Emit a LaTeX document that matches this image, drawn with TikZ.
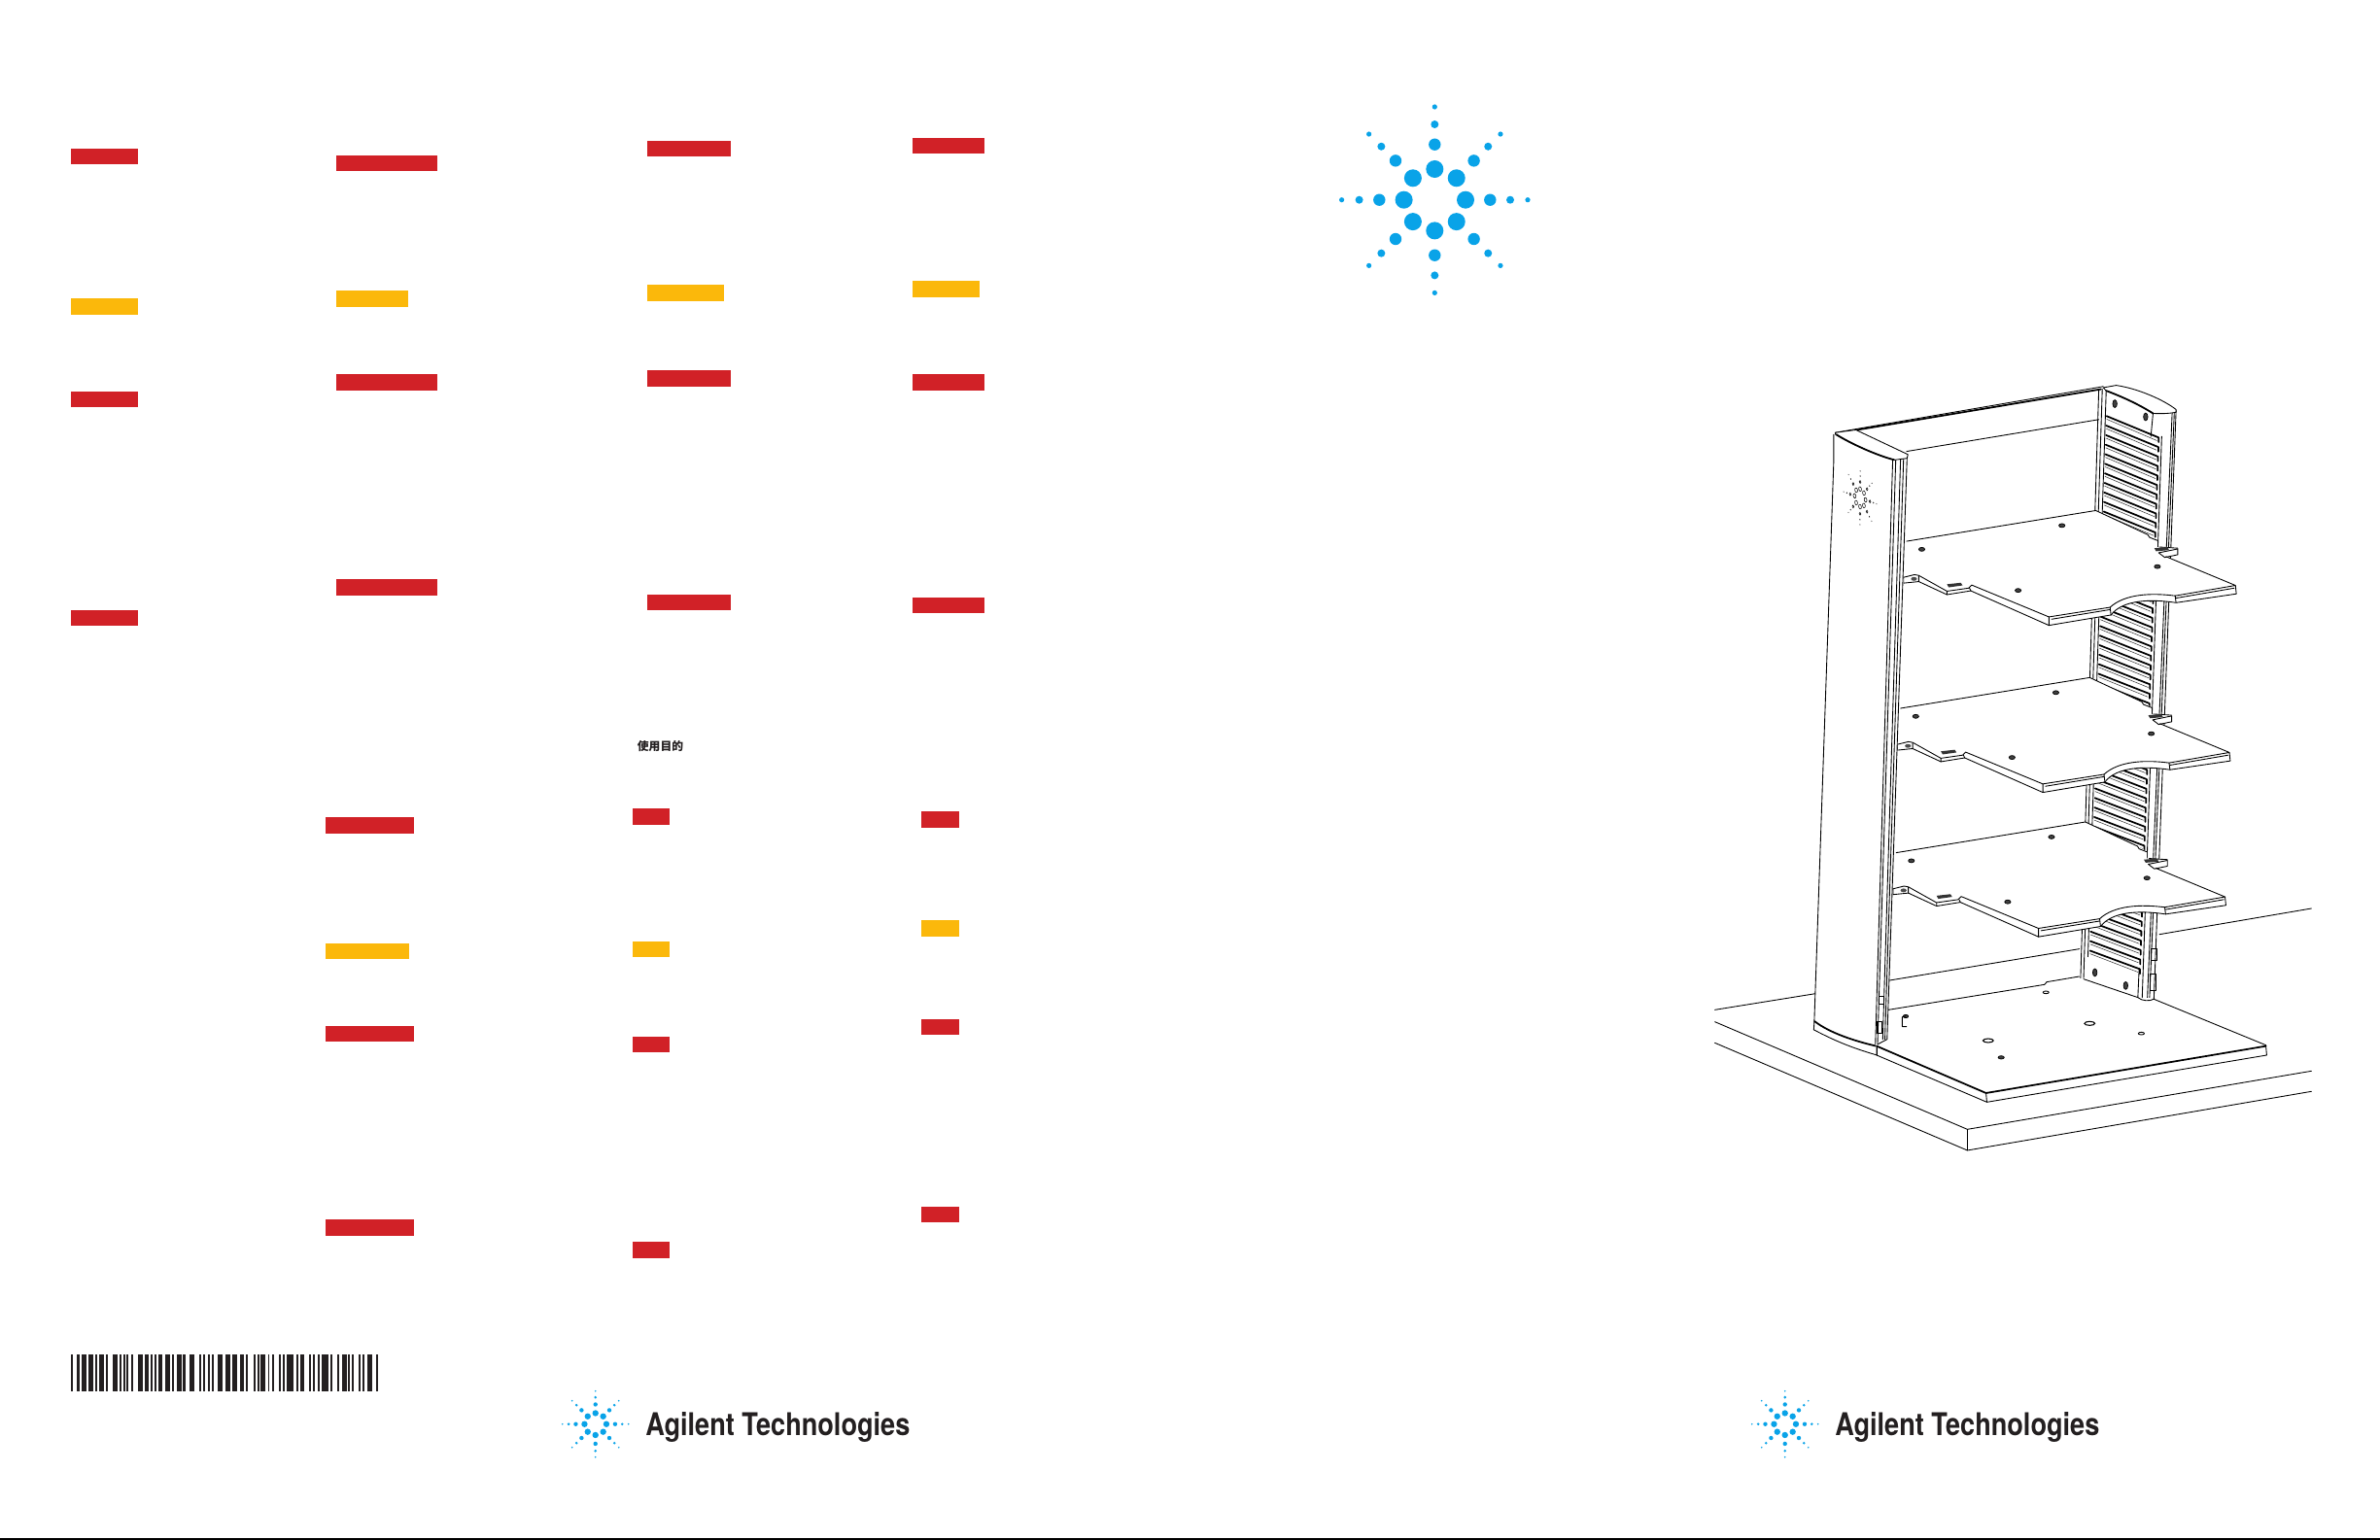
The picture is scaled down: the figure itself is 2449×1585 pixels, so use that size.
\documentclass[tikz,border=0pt]{standalone}
\usepackage{fontspec}
\usepackage{graphicx}
\setmainfont{TeX Gyre Heros}
\newfontfamily\cjkfont{Noto Sans CJK SC}
\definecolor{redbar}{HTML}{D12127}
\definecolor{yelbar}{HTML}{FBB80B}
\definecolor{logoblue}{HTML}{09A3E8}
\definecolor{ink}{HTML}{231F20}
\tikzset{
  redfill/.style={fill=redbar},
  yelfill/.style={fill=yelbar},
  rackthin/.style={draw=black,line width=0.5pt,line join=round,line cap=round},
  rackthick/.style={draw=black,line width=1pt,line join=round,line cap=round},
  rackhair/.style={draw=black!80,line width=0.3pt,line join=round},
  rackwhite/.style={fill=white,draw=black,line width=0.5pt,line join=round},
  darkhole/.style={fill=black!75,draw=black,line width=0.4pt},
  openhole/.style={fill=white,draw=black,line width=0.6pt},
  brand/.style={inner sep=0pt,anchor=base west,text=ink,font=\bfseries}
}
\newcommand{\starburst}[3]{%
  \foreach \ang in {0,45,...,315}
    \foreach \dd/\rr in {31.7/9,57/6.2,77.7/4,95.7/2.6}
      \fill[logoblue] (#1,#2) ++(\ang:\dd*#3) circle[radius=\rr*#3];}
\newcommand{\brandtext}{\resizebox{5.44cm}{0.48cm}{Agilent Technologies}}
\newcommand{\oneshelf}{%
  % silhouette
  \path[fill=white] (490,445)--(497,448)--(933,368)--(1055,432)--(1075,445)--(1075,463)--(1122,466)--(1122,483)--(1098,490)--(1255,563)--(1257,585)--(1118,608)
     .. controls (1060,598) and (995,600) .. (968,640)--(825,667)--(645,577)--(590,587)--(525,553)--(490,557)--cycle;
  % top surface edges
  \draw[rackthin] (497,448)--(933,368)--(1053,431)--(1057,438)--(1075,446);
  \draw[rackthin] (1078,478)--(1122,468)--(1122,483)--(1092,490)--(1078,478);
  \draw[rackthin] (1080,463)--(1122,466);
  \draw[rackthin] (1095,488)--(1255,563)--(1257,585)--(1118,608)--(1116,590)--(1255,563);
  \draw[rackthin] (1118,596)--(1252,570);
  \draw[rackthin] (1116,590) .. controls (1060,582) and (1000,585) .. (966,620)--(825,645)--(825,667)--(968,640);
  \draw[rackthin] (831,651)--(966,626);
  \draw[rackthin] (968,640) .. controls (995,600) and (1060,598) .. (1118,608);
  \draw[rackthin] (966,620)--(968,640);
  \draw[rackthin] (825,645)--(647,562)--(640,570)--(590,578)--(525,537)--(515,535)--(490,542);
  \draw[rackthin] (825,667)--(645,577)--(642,570);
  \draw[rackthin] (645,577)--(590,587)--(590,578);
  \draw[rackthin] (590,587)--(525,553)--(525,538);
  \draw[rackthin] (525,553)--(490,557)--(490,542);
  % small latches
  \fill[black!80] (590,560)--(622,556)--(626,563)--(594,568)--cycle;
  \fill[black!80] (1068,466)--(1098,463)--(1102,471)--(1072,474)--cycle;
  \fill[black!70] (514,546) circle[x radius=7,y radius=5];
  % holes
  \foreach \hx/\hy in {532/469,855/407,1075/514,754/576}
    \path[darkhole] (\hx,\hy) circle[x radius=7,y radius=5];
}
\begin{document}
\begin{tikzpicture}[x=0.02cm,y=-0.02cm]
\useasboundingbox (0,0) rectangle (2449,1585);
\fill[white] (0,0) rectangle (2449,1585);
% red and yellow bars
\foreach \xa/\ya/\xb/\yb in {73/153/142/169, 73/403/142/419, 73/628/142/644,
  346/160/450/176, 346/385/450/402, 346/596/450/613,
  666/145/752/161, 666/381/752/398, 666/612/752/628,
  939/142/1013/158, 939/385/1013/402, 939/615/1013/631,
  335/841/426/858, 335/1056/426/1072, 335/1255/426/1272,
  651/832/689/849, 651/1067/689/1083, 651/1278/689/1295,
  948/835/987/852, 948/1049/987/1065, 948/1242/987/1258}
  \fill[redfill] (\xa,\ya) rectangle (\xb,\yb);
\foreach \xa/\ya/\xb/\yb in {73/307/142/324, 346/299/420/316, 666/293/745/310, 939/289/1008/306,
  335/971/421/987, 651/969/689/985, 948/947/987/964}
  \fill[yelfill] (\xa,\ya) rectangle (\xb,\yb);
% CJK heading
\node[inner sep=0pt,text=ink] (purpose) at (679.5,768.5) {\fontsize{6.7pt}{8pt}\selectfont\cjkfont\bfseries 使用目的};
% large logo
\starburst{1476.3}{205.7}{1}
% small logos with company name
\starburst{612.7}{1465.7}{0.355}
\starburst{1836.7}{1465.7}{0.355}
\node[brand] (brandleft) at (664,1477.3) {\brandtext};
\node[brand] (brandright) at (1888,1477.3) {\brandtext};
% barcode
\begin{scope}[shift={(70,0)},x={(0.3333,0)}]
\foreach \a/\b in {10/14,28/37,42/56,62/78,84/90,96/110,116/122,137/152,158/164,170/176,181/187,194/200,215/230,236/250,256/262,268/274,280/290,301/316,322/328,335/350,355/362,376/391,406/412,418/424,432/438,444/450,463/478}
  \fill[ink] (\a,1394) rectangle (\b,1432);
\end{scope}
\begin{scope}[shift={(230,0)},x={(0.3333,0)}]
\foreach \a/\b in {5/20,28/43,50/64,70/76,92/98,104/110,115/130,137/142,149/155,170/176,182/188,195/216,225/232,236/250,265/270,277/283,290/296,303/323,330/337,352/358,365/380,385/390,397/403,418/424,430/436,445/460,470/478}
  \fill[ink] (\a,1394) rectangle (\b,1432);
\end{scope}
% bottom rule
\draw[black,line width=0.85pt] (0,1584)--(2449,1584);
% table and base (lower crop coordinates)
\begin{scope}[shift={(1740,900)},x={(0.44643,0)},y={(0,0.33333)}]
  \draw[rackthin] (55,418)--(287,368);
  \draw[rackthin] (458,327)--(895,230);
  \draw[rackthin] (1080,185)--(1430,105);
  \draw[rackthin] (55,455)--(637,787)--(1430,607);
  \draw[rackthin] (55,520)--(637,852)--(1430,670);
  \draw[rackthin] (637,787)--(637,852);
  % base plate
  \path[fill=white] (428,530)--(455,418)--(895,315)--(1067,385)--(1325,527)--(1327,558)--(682,703)--(428,558)--cycle;
  \draw[rackthin] (455,418)--(815,340)--(820,332)--(895,315);
  \draw[rackthin] (1067,385)--(1325,527);
  \draw[rackthick] (1325,530)--(680,675)--(428,530);
  \draw[rackthin] (1325,527)--(1327,558)--(682,703)--(680,675);
  \draw[rackthin] (682,703)--(428,558)--(428,530);
  \path[openhole] (685,513) circle[x radius=12,y radius=6];
  \path[openhole] (919,460) circle[x radius=12,y radius=6];
  \path[darkhole] (715,565) circle[x radius=7,y radius=5];
  \path[darkhole] (495,438) circle[x radius=6,y radius=5];
  \draw[rackthin] (495,438)--(487,440)--(487,470)--(497,470);
  \path[rackthin,fill=white] (1038,491) circle[x radius=7,y radius=4];
  \path[rackthin,fill=white] (818,364) circle[x radius=7,y radius=4];
\end{scope}
% rack (upper crop coordinates; the lower rear part continues in them)
\begin{scope}[shift={(1740,380)},x={(0.44643,0)},y={(0,0.39526)}]
  % rear column
  \path[fill=white] (940,52)--(1118,108)--(1067,1640)--(1030,1636)--(898,1585)--cycle;
  \foreach \i in {0,...,56}{
    \pgfmathsetmacro\ya{122+24.86*\i}
    \pgfmathsetmacro\xa{958-0.0274*(\ya-122)}
    \pgfmathsetmacro\xb{\xa+120-5*\i/56}
    \pgfmathsetmacro\yb{\ya+56-8*\i/56}
    \draw[rackthick] (\xa,\ya)--(\xb,\yb)--(\xb,\yb+12);
    \draw[rackhair] (\xa,\ya+8)--(\xb-4,\yb+8);
  }
  \draw[rackthin] (940,52)--(898,1585);
  \draw[rackthin] (948,52)--(905,1585);
  \draw[rackthin] (957,56)--(915,1530);
  \draw[rackthin] (1085,175)--(1040,1636);
  \draw[rackthin] (1109,115)--(1052,1636);
  \draw[rackthin] (1114,112)--(1057,1636);
  \draw[rackthin] (1118,108)--(1067,1640);
  \draw[rackthin] (1065,115)--(1060,175);
  \draw[rackthin] (1033,1560)--(1030,1636) .. controls (1040,1646) and (1058,1646) .. (1067,1640);
  \draw[rackthin] (905,1588)--(1030,1636);
  \path[darkhole] (931,1571) circle[x radius=5,y radius=10];
  \path[darkhole] (1002,1605) circle[x radius=5,y radius=10];
  % right hinge
  \draw[rackthin] (1060,1510)--(1060,1540)--(1073,1540)--(1073,1510)--cycle;
  \draw[rackthin] (1058,1576)--(1058,1618)--(1071,1618)--(1071,1576)--cycle;
  % top of the rear wall
  \draw[rackthin] (333,165)--(950,45);
  \draw[rackthick] (383,158)--(945,52);
  \draw[rackthin] (497,214)--(940,131);
  % right cap
  \path[rackwhite] (950,48)--(980,42) .. controls (1030,50) and (1090,80) .. (1118,105)--(1118,112) .. controls (1100,116) and (1080,116) .. (1065,115) .. controls (1030,90) and (990,70) .. (957,56)--cycle;
  \draw[rackthick] (957,56) .. controls (990,70) and (1030,90) .. (1065,115);
  \path[darkhole] (977,90) circle[x radius=5,y radius=10];
  \path[darkhole] (1048,124) circle[x radius=5,y radius=10];
  % shelves
  \oneshelf
  \begin{scope}[shift={(-14,435)}]\oneshelf\end{scope}
  \begin{scope}[shift={(-24,811)}]\oneshelf\end{scope}
  % front column
  \path[fill=white] (329,170)--(333,165)--(380,158)--(500,222)--(452,1745)--(430,1758)--(425,1758) .. controls (380,1740) and (320,1720) .. (284,1703)--cycle;
  \draw[rackthin] (329,170)--(329,240)--(284,1703);
  \draw[rackthin] (465,235)--(425,1758);
  \draw[rackthin] (472,235)--(430,1758);
  \draw[rackthin] (483,235)--(442,1745);
  \draw[rackthin] (490,232)--(447,1745);
  \draw[rackthin] (498,230)--(452,1745);
  \draw[rackthin] (430,1758)--(452,1745);
  % left cap
  \path[rackwhite] (333,165)--(380,158)--(500,222)--(498,232)--(470,236) .. controls (430,225) and (370,195) .. (333,170)--cycle;
  \draw[rackthick] (335,170) .. controls (370,195) and (430,225) .. (468,236);
  % hinges on the front column
  \draw[rackthin] (433,1632)--(433,1653)--(445,1653)--(445,1632)--cycle;
  \draw[rackthin] (428,1700)--(428,1730)--(441,1730)--(441,1700)--cycle;
  % foot of the front column
  \draw[rackthick] (285,1698) .. controls (320,1729) and (380,1750) .. (425,1762);
  \draw[rackthin] (284,1703)--(283,1720) .. controls (340,1754) and (380,1770) .. (428,1786);
  \draw[rackthin] (428,1762)--(428,1786);
\end{scope}
% logo printed on the front column
\begin{scope}[shift={(1914,512.4)},x={(0.177,0.0656)},y={(0.00698,-0.2885)}]
  \foreach \ang in {0,45,...,315}{
    \path[draw=black,line width=0.3pt] (\ang:31.7) circle[radius=8];
    \path[draw=black,line width=0.3pt] (\ang:57) circle[radius=5];
    \fill[black] (\ang:77.7) circle[radius=3];
    \fill[black] (\ang:95.7) circle[radius=2.4];
  }
\end{scope}
\end{tikzpicture}
\end{document}
